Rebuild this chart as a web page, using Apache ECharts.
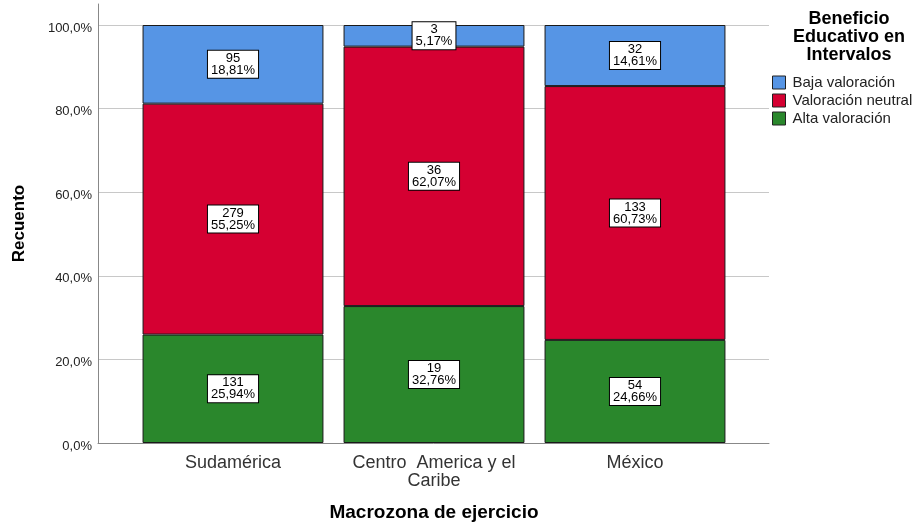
<!DOCTYPE html>
<html>
<head>
<meta charset="utf-8">
<script src="https://cdn.jsdelivr.net/npm/echarts@6/dist/echarts.min.js"></script>
<style>
  html, body { margin: 0; padding: 0; background: #fff; }
  #chart { width: 920px; height: 525px; }
</style>
</head>
<body>
<div id="chart"></div>
<script>
// Macrozonas (categorías del eje X)
const categories = ['Sudamérica', 'Centro  America y el\nCaribe', 'México'];

// Porcentaje de cada grupo dentro de su macrozona
const altaPct = [25.94, 32.76, 24.66];
const neutralPct = [55.25, 62.07, 60.73];
const bajaPct = [18.81, 5.17, 14.61];

// Recuentos absolutos
const altaCount = [131, 19, 54];
const neutralCount = [279, 36, 133];
const bajaCount = [95, 3, 32];

// Marcas del eje Y
const yTicks = [0, 20, 40, 60, 80, 100];

const seriesNames = ['Baja valoración', 'Valoración neutral', 'Alta valoración'];
const colors = { baja: '#5695E5', neutral: '#D50032', alta: '#2A872C' };

const FONT = '"Liberation Sans", Arial, sans-serif';

function fmtPct(v) {
  return v.toFixed(2).replace('.', ',') + '%';
}

function labelFor(counts, pcts) {
  return {
    show: true,
    position: 'inside',
    formatter: p => counts[p.dataIndex] + '\n' + fmtPct(pcts[p.dataIndex]),
    backgroundColor: '#fff',
    borderColor: '#000',
    borderWidth: 1,
    padding: [2, 3, 1, 3],
    color: '#000',
    fontFamily: FONT,
    fontSize: 13,
    lineHeight: 12,
    align: 'center'
  };
}

function barSeries(name, values, counts, color) {
  return {
    name: name,
    type: 'bar',
    stack: 'total',
    xAxisIndex: 1,
    yAxisIndex: 1,
    barWidth: '90%',
    data: values,
    itemStyle: { color: color, borderColor: '#1a1a1a', borderWidth: 1 },
    label: labelFor(counts, values),
    emphasis: { disabled: true }
  };
}

const chart = echarts.init(document.getElementById('chart'), null, { renderer: 'canvas' });

const gridBase = { outerBoundsMode: 'none', containLabel: false };

chart.setOption({
  backgroundColor: '#fff',
  animation: false,
  title: {
    text: 'Beneficio\nEducativo en\nIntervalos',
    left: 844,
    top: 5,
    textAlign: 'center',
    textStyle: {
      fontFamily: FONT,
      fontSize: 18,
      fontWeight: 'bold',
      lineHeight: 18,
      color: '#000'
    }
  },
  legend: {
    orient: 'vertical',
    left: 772,
    top: 75,
    padding: 0,
    itemWidth: 13,
    itemHeight: 13,
    itemGap: 3,
    icon: 'rect',
    selectedMode: false,
    data: seriesNames,
    itemStyle: { borderColor: '#222', borderWidth: 1 },
    textStyle: { fontFamily: FONT, fontSize: 15, lineHeight: 15, color: '#222', padding: [0, 0, 0, 2] }
  },
  grid: [
    // marco: eje X y rejilla
    Object.assign({ left: 98, right: 151, top: 25, bottom: 82 }, gridBase),
    // barras
    Object.assign({ left: 132.5, right: 184.5, top: 25, bottom: 82 }, gridBase),
    // eje Y completo (se prolonga por encima del 100 %)
    Object.assign({ left: 98, right: 151, top: 4, bottom: 82 }, gridBase),
    // etiquetas del eje Y, algo por debajo de cada línea
    Object.assign({ left: 98, right: 151, top: 28, bottom: 79 }, gridBase)
  ],
  xAxis: [
    {
      gridIndex: 0,
      type: 'category',
      data: [''],
      axisLine: { show: true, lineStyle: { color: '#888', width: 1 } },
      axisTick: { show: false },
      axisLabel: { show: false },
      splitLine: { show: false }
    },
    {
      gridIndex: 1,
      type: 'category',
      data: categories,
      axisLine: { show: false },
      axisTick: { show: false },
      axisLabel: {
        interval: 0,
        hideOverlap: false,
        fontFamily: FONT,
        fontSize: 18,
        lineHeight: 18,
        color: '#333',
        margin: 11
      },
      name: 'Macrozona de ejercicio',
      nameLocation: 'middle',
      nameGap: 60,
      nameTextStyle: { fontFamily: FONT, fontSize: 19, fontWeight: 'bold', color: '#000' }
    },
    { gridIndex: 2, type: 'category', data: [''], show: false },
    { gridIndex: 3, type: 'category', data: [''], show: false }
  ],
  yAxis: [
    {
      gridIndex: 0,
      type: 'value',
      min: 0,
      max: 100,
      interval: 20,
      axisLine: { show: false },
      axisTick: { show: false },
      axisLabel: { show: false },
      splitLine: { show: true, lineStyle: { color: '#c8c8c8', width: 1 } }
    },
    {
      gridIndex: 1,
      type: 'value',
      min: 0,
      max: 100,
      show: false
    },
    {
      gridIndex: 2,
      type: 'value',
      min: 0,
      max: 1,
      axisLine: { show: true, lineStyle: { color: '#888', width: 1 } },
      axisTick: { show: false },
      axisLabel: { show: false },
      splitLine: { show: false },
      name: 'Recuento',
      nameLocation: 'middle',
      nameGap: 70,
      nameRotate: 90,
      nameTextStyle: { fontFamily: FONT, fontSize: 17, fontWeight: 'bold', color: '#000' }
    },
    {
      gridIndex: 3,
      type: 'value',
      min: 0,
      max: 100,
      interval: 20,
      axisLine: { show: false },
      axisTick: { show: false },
      splitLine: { show: false },
      axisLabel: {
        fontFamily: FONT,
        fontSize: 13,
        color: '#222',
        margin: 6,
        formatter: v => yTicks.includes(v) ? v.toFixed(1).replace('.', ',') + '%' : ''
      }
    }
  ],
  series: [
    barSeries(seriesNames[2], altaPct, altaCount, colors.alta),
    barSeries(seriesNames[1], neutralPct, neutralCount, colors.neutral),
    barSeries(seriesNames[0], bajaPct, bajaCount, colors.baja)
  ]
});
</script>
</body>
</html>
